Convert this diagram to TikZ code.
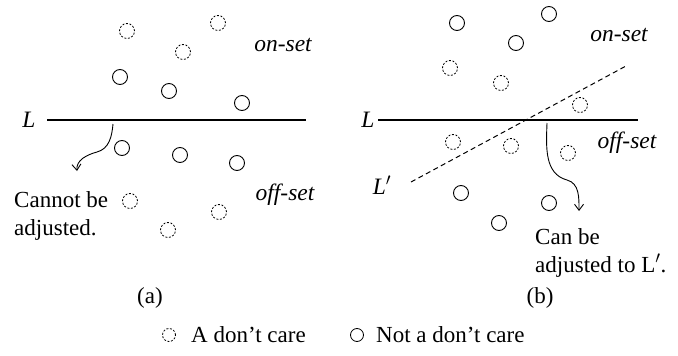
\documentclass[tikz,border=0pt]{standalone}
\usepackage{fontspec}
\setmainfont{Liberation Serif}
\usetikzlibrary{arrows.meta}
\begin{document}
\begin{tikzpicture}[x=1pt,y=-1pt,
  dc/.style={circle,draw,dash pattern=on 2pt off 1.6pt,minimum size=15pt,inner sep=0pt,line width=0.8pt},
  nc/.style={circle,draw,minimum size=15pt,inner sep=0pt,line width=0.9pt},
  lc/.style={circle,draw,minimum size=13pt,inner sep=0pt,line width=0.8pt},
  txt/.style={font=\fontsize{23}{28}\selectfont,inner sep=0pt},
  itx/.style={font=\fontsize{23.5}{28}\selectfont\itshape,inner sep=0pt},
  sline/.style={line width=1.2pt},
  curv/.style={line width=0.9pt,-{Straight Barb[length=6pt,width=9pt]}}]
\useasboundingbox (0,0) rectangle (678,356);
% panel (a)
\node[dc] (a1) at (127,31) {};
\node[dc] (a2) at (218,23) {};
\node[dc] (a3) at (183,52) {};
\node[nc] (a4) at (120,77) {};
\node[nc] (a5) at (169,91) {};
\node[nc] (a6) at (242,103) {};
\node[nc] (a7) at (122,148) {};
\node[nc] (a8) at (180,155) {};
\node[nc] (a9) at (237,163) {};
\node[dc] (a10) at (130,201) {};
\node[dc] (a11) at (219,212) {};
\node[dc] (a12) at (168,230) {};
\node[itx] (aon) at (283,45) {on-set};
\node[itx] (aoff) at (285,195) {off-set};
\node[itx] (aL) at (29,120) {L};
\coordinate (aLs) at (47,120);
\coordinate (aLe) at (306,120);
\draw[sline] (aLs) -- (aLe);
\coordinate (aA) at (113,124);
\coordinate (aB) at (97,152);
\coordinate (aC) at (77,171);
\draw[curv] (aA) to[out=-95,in=15] (aB) to[out=195,in=95] (aC);
\node[txt,anchor=west,align=left] (acap) at (14,216) {Cannot be\\adjusted.};
\node[txt] (alab) at (150,298) {(a)};
% panel (b)
\node[nc] (b1) at (457,23) {};
\node[nc] (b2) at (549,14) {};
\node[nc] (b3) at (516,43) {};
\node[dc] (b4) at (450,68) {};
\node[dc] (b5) at (501,83) {};
\node[dc] (b6) at (580,105) {};
\node[dc] (b7) at (453,142) {};
\node[dc] (b8) at (511,146) {};
\node[dc] (b9) at (568,153) {};
\node[nc] (b10) at (461,193) {};
\node[nc] (b11) at (549,203) {};
\node[nc] (b12) at (499,223) {};
\node[itx] (bon) at (619,35) {on-set};
\node[itx] (boff) at (627,143) {off-set};
\node[itx] (bL) at (368,120) {L};
\node[itx] (bLp) at (382,185) {L$'$};
\coordinate (bLs) at (378,120);
\coordinate (bLe) at (638,120);
\draw[sline] (bLs) -- (bLe);
\coordinate (bPs) at (411,182);
\coordinate (bPe) at (626,66);
\draw[line width=1pt,dash pattern=on 5pt off 3.5pt] (bPs) -- (bPe);
\coordinate (bA) at (547,123);
\coordinate (bB) at (567,180);
\coordinate (bC) at (579,211);
\draw[curv] (bA) to[out=-92,in=165] (bB) to[out=-15,in=90] (bC);
\node[txt,anchor=west,align=left] (bcap) at (535,253) {Can be\\adjusted to L$'$.};
\node[txt] (blab) at (540,298) {(b)};
% legend
\node[lc,dash pattern=on 2pt off 1.6pt] (ld) at (169,335) {};
\node[txt,anchor=west] (ldt) at (191,335) {A don’t care};
\node[lc] (ln) at (357,335) {};
\node[txt,anchor=west] (lnt) at (376,335) {Not a don’t care};
\end{tikzpicture}
\end{document}
